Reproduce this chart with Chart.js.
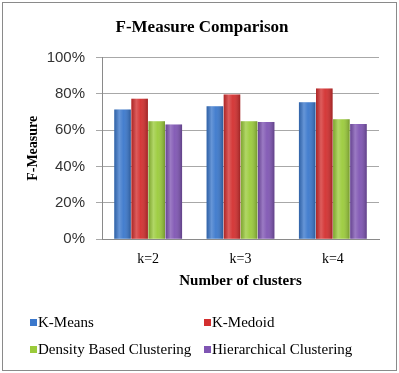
<!DOCTYPE html>
<html>
<head>
<meta charset="utf-8">
<script src="https://cdn.jsdelivr.net/npm/chart.js@4.4.1/dist/chart.umd.min.js"></script>
<style>
  body { margin: 0; background: #fff; }
  #wrap { position: relative; width: 399px; height: 373px; }
  #frame { position: absolute; left: 2px; top: 2px; width: 393px; height: 367px; border: 1px solid #8a8a8a; pointer-events: none; }
</style>
</head>
<body>
<div id="wrap">
  <canvas id="fmeasure" width="399" height="373"></canvas>
  <div id="frame"></div>
</div>
<script>
// dados
const categorias = ['k=2', 'k=3', 'k=4'];
const kMeans = [71.3, 73.1, 75.3];
const kMedoid = [77.3, 79.6, 82.9];
const densityBased = [64.9, 64.9, 66.0];
const hierarchical = [63.1, 64.5, 63.3];
const yTicks = [0, 20, 40, 60, 80, 100];

const serif = "'Liberation Serif', 'Times New Roman', serif";
const sans = "'Liberation Sans', Arial, sans-serif";

// sombreamento dos cilindros
const shadePlugin = {
  id: 'shade',
  afterDatasetsDraw(chart) {
    const ctx = chart.ctx;
    chart.data.datasets.forEach((ds, i) => {
      chart.getDatasetMeta(i).data.forEach(bar => {
        const left = bar.x - bar.width / 2;
        const g = ctx.createLinearGradient(left, 0, left + bar.width, 0);
        g.addColorStop(0, 'rgba(0,0,0,0.18)');
        g.addColorStop(0.3, 'rgba(255,255,255,0.22)');
        g.addColorStop(0.55, 'rgba(255,255,255,0.05)');
        g.addColorStop(1, 'rgba(0,0,0,0.25)');
        ctx.save();
        ctx.fillStyle = g;
        ctx.fillRect(left, bar.y, bar.width, bar.base - bar.y);
        ctx.restore();
      });
    });
  }
};

// legenda em duas colunas
const legendPlugin = {
  id: 'legend2col',
  afterDraw(chart) {
    const ctx = chart.ctx;
    const cols = [30, 204];
    const rows = [323, 350];
    ctx.save();
    ctx.font = '15px ' + serif;
    ctx.textBaseline = 'middle';
    chart.data.datasets.forEach((ds, i) => {
      const x = cols[i % 2];
      const y = rows[Math.floor(i / 2)];
      ctx.fillStyle = ds.backgroundColor;
      ctx.fillRect(x, y - 4, 7, 7);
      ctx.fillStyle = '#000';
      ctx.fillText(ds.label, x + 8, y);
    });
    ctx.restore();
  }
};

const ctx = document.getElementById('fmeasure').getContext('2d');

const meuGrafico = new Chart(ctx, {
  type: 'bar',
  data: {
    labels: categorias,
    datasets: [
      { label: 'K-Means', data: kMeans, backgroundColor: '#3b78cc' },
      { label: 'K-Medoid', data: kMedoid, backgroundColor: '#d32f2f' },
      { label: 'Density Based Clustering', data: densityBased, backgroundColor: '#9bcb3b' },
      { label: 'Hierarchical Clustering', data: hierarchical, backgroundColor: '#7f55b3' }
    ]
  },
  options: {
    responsive: false,
    animation: false,
    devicePixelRatio: 1,
    layout: { padding: { left: 25, right: 20, top: 17, bottom: 79 } },
    datasets: { bar: { categoryPercentage: 0.74, barPercentage: 0.97 } },
    plugins: {
      legend: { display: false },
      tooltip: { enabled: false },
      title: {
        display: true,
        text: 'F-Measure Comparison',
        color: '#000',
        font: { family: serif, size: 17, weight: 'bold' },
        padding: { top: 0, bottom: 20 }
      }
    },
    scales: {
      y: {
        min: 0,
        max: 100,
        afterBuildTicks: axis => { axis.ticks = yTicks.map(v => ({ value: v })); },
        afterFit: axis => { axis.width = 77; },
        ticks: {
          callback: v => v + '%',
          color: '#333',
          font: { family: sans, size: 15 },
          padding: 11
        },
        grid: { color: '#a8a8a8', tickLength: 6 },
        border: { color: '#8a8a8a' },
        title: {
          display: true,
          text: 'F-Measure',
          color: '#000',
          font: { family: serif, size: 14, weight: 'bold' },
          padding: { top: 0, bottom: 5 }
        }
      },
      x: {
        ticks: {
          color: '#000',
          font: { family: serif, size: 14 },
          padding: 4
        },
        grid: { display: false },
        border: { color: '#8a8a8a' },
        title: {
          display: true,
          text: 'Number of clusters',
          color: '#000',
          font: { family: serif, size: 15, weight: 'bold' },
          padding: { top: 0 }
        }
      }
    }
  },
  plugins: [shadePlugin, legendPlugin]
});
</script>
</body>
</html>
